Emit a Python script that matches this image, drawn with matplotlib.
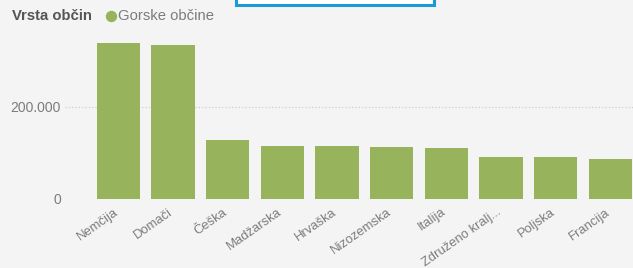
import matplotlib
matplotlib.use("Agg")
import matplotlib.pyplot as plt
from matplotlib.patches import Rectangle
from matplotlib.transforms import ScaledTranslation

categories = ["Nemčija", "Domači", "Češka", "Madžarska", "Hrvaška",
              "Nizozemska", "Italija", "Združeno kralj...", "Poljska", "Francija"]
values = [337000, 334000, 128000, 115000, 115000, 113000, 111000, 91000, 90000, 86000]
yticks = [0, 200000]
ytick_labels = ["0", "200.000"]

BG = "#f4f4f4"
BAR = "#97b45d"
TXT = "#7c7c7c"

W, H = 633, 268
plt.rcParams['font.family'] = ['Liberation Sans', 'DejaVu Sans']
fig = plt.figure(figsize=(W / 100, H / 100), dpi=100, facecolor=BG)

left_px, right_px, top_px, bottom_px = 65, 633, 35, 199
ax = fig.add_axes([left_px / W, (H - bottom_px) / H, (right_px - left_px) / W, (bottom_px - top_px) / H])
ax.set_facecolor(BG)

x = list(range(len(categories)))
ax.bar(x, values, width=0.79, color=BAR, zorder=2)

step = 54.7
c0 = 118.2
ax.set_xlim((left_px - c0) / step, (right_px - c0) / step)
ax.set_ylim(0, (bottom_px - top_px) / 92.3 * 200000)

ax.set_yticks(yticks)
ax.set_yticklabels(ytick_labels, color=TXT, fontsize=10)
for yv in yticks:
    ax.axhline(yv, color="#c8c8c8", lw=0.8, ls=(0, (1, 2)), zorder=1)
ax.tick_params(axis='y', length=0, pad=3)

ax.set_xticks(x)
ax.set_xticklabels([])
ax.tick_params(axis='x', length=0)
off = ScaledTranslation(-5 / 100, -7 / 100, fig.dpi_scale_trans)
trans = ax.get_xaxis_transform() + off
for xi, lab in zip(x, categories):
    ax.text(xi, 0, lab, transform=trans, rotation=35, ha='right', va='top',
            rotation_mode='anchor', color=TXT, fontsize=9.4, clip_on=False)

for s in ax.spines.values():
    s.set_visible(False)

# Overlay axes in pixel coordinates for legend and top box
ax_leg = fig.add_axes([0, 0, 1, 1], facecolor='none')
ax_leg.set_xlim(0, W)
ax_leg.set_ylim(H, 0)
ax_leg.axis('off')

ax_leg.text(12, 15.5, "Vrsta občin", fontsize=10.7, fontweight='bold',
            color="#555555", va='center', ha='left')
ax_leg.plot([111], [16], 'o', color=BAR, markersize=7.2)
ax_leg.text(118, 15.5, "Gorske občine", fontsize=10.7, color=TXT,
            va='center', ha='left')

# Blue box at top
ax_leg.add_patch(Rectangle((236, -10), 198, 14.5, facecolor='white',
                           edgecolor='#1a9ad6', lw=2.2))

fig.savefig("out.png", dpi=100, facecolor=BG)
